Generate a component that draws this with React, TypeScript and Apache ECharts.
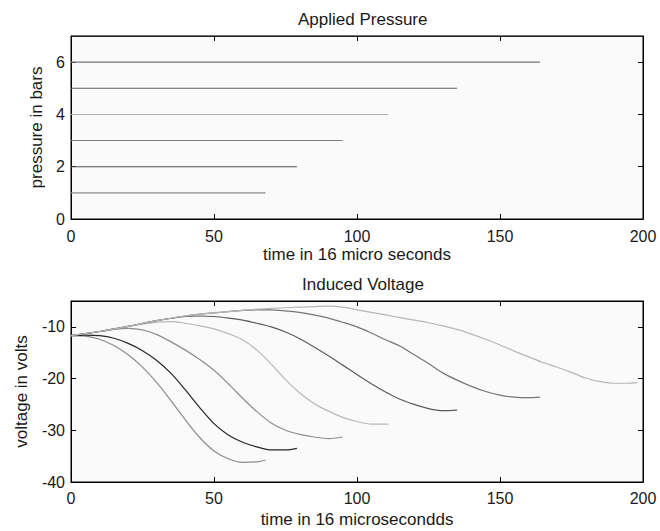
import { useEffect, useRef } from "react";
import * as echarts from "echarts";

// ---- Applied pressure (top panel) ----
const pressureLevels = [1, 2, 3, 4, 5, 6, 7];
const pressureEnds = [68, 79, 95, 111, 135, 164, 200];
const pressureColors = ["#8a8a8a", "#4e4e4e", "#7e7e7e", "#b4b4b4", "#606060", "#747474", "#444444"];

// ---- Induced voltage (bottom panel) ----
const v1t = [0, 5, 10, 15, 20, 25, 30, 35, 40, 45, 50, 55, 60, 65, 68];
const v1 = [-11.7, -11.8, -12.4, -13.6, -15.4, -17.8, -20.8, -24.3, -28.0, -31.4, -34.0, -35.5, -36.2, -36.1, -35.8];

const v2t = [0, 5, 10, 15, 20, 25, 30, 35, 40, 45, 50, 55, 60, 65, 70, 75, 79];
const v2 = [-11.7, -11.6, -11.7, -12.2, -13.2, -14.6, -16.5, -19.0, -22.2, -25.6, -28.7, -30.9, -32.3, -33.2, -33.8, -33.8, -33.5];

const v3t = [0, 5, 10, 15, 20, 25, 30, 35, 40, 45, 50, 55, 60, 65, 70, 75, 80, 85, 90, 95];
const v3 = [-11.7, -11.3, -10.9, -10.5, -10.3, -10.6, -11.5, -12.9, -14.5, -16.3, -18.4, -21.0, -23.8, -26.4, -28.6, -30.0, -30.8, -31.3, -31.6, -31.3];

const v4t = [0, 10, 20, 30, 35, 40, 45, 50, 55, 60, 65, 70, 75, 80, 85, 90, 95, 100, 105, 111];
const v4 = [-11.7, -10.9, -9.9, -9.1, -9.0, -9.3, -9.8, -10.4, -11.3, -12.5, -14.5, -17.2, -20.2, -22.8, -24.8, -26.3, -27.5, -28.3, -28.8, -28.8];

const v5t = [0, 10, 20, 30, 40, 45, 50, 55, 60, 65, 70, 75, 80, 85, 90, 95, 100, 105, 110, 115, 120, 125, 130, 135];
const v5 = [-11.7, -10.9, -9.9, -8.8, -8.0, -7.9, -8.0, -8.3, -8.7, -9.3, -10.0, -11.0, -12.3, -13.9, -15.6, -17.4, -19.2, -21.0, -22.6, -24.0, -25.0, -25.8, -26.2, -26.1];

const v6t = [0, 10, 20, 30, 40, 50, 60, 65, 70, 75, 80, 85, 90, 95, 100, 105, 110, 115, 120, 125, 130, 135, 140, 145, 150, 155, 160, 164];
const v6 = [-11.7, -10.9, -9.9, -8.8, -7.9, -7.3, -6.8, -6.7, -6.7, -6.9, -7.2, -7.7, -8.3, -9.1, -10.0, -11.2, -12.5, -13.7, -15.4, -17.1, -18.9, -20.3, -21.5, -22.5, -23.2, -23.6, -23.7, -23.6];

const v7t = [0, 10, 20, 30, 40, 50, 60, 70, 80, 90, 95, 100, 105, 110, 115, 120, 125, 130, 135, 140, 145, 150, 155, 160, 165, 170, 175, 180, 185, 190, 195, 198];
const v7 = [-11.7, -10.9, -9.9, -8.8, -7.9, -7.3, -6.8, -6.4, -6.2, -6.0, -6.2, -6.7, -7.2, -7.7, -8.2, -8.7, -9.2, -9.8, -10.5, -11.4, -12.4, -13.5, -14.7, -15.8, -16.9, -17.8, -18.8, -19.9, -20.6, -20.9, -20.9, -20.8];

const voltageTimes = [v1t, v2t, v3t, v4t, v5t, v6t, v7t];
const voltageValues = [v1, v2, v3, v4, v5, v6, v7];
const voltageColors = ["#8c8c8c", "#262626", "#8e8e8e", "#b8b8b8", "#5c5c5c", "#767676", "#b6b6b6"];

const timeTicks = [0, 200, 50];
const pressureTicks = [0, 7, 2];
const voltageTicks = [-40, -5, 10];

const FONT = "Liberation Sans, Arial, Helvetica, sans-serif";
const TXT = "#1a1a1a";
const AX = "#000000";
const AXW = 1;

function frameAxis(gridIndex: number, position: string, ticks: number[]) {
  return {
    type: "value",
    gridIndex,
    position,
    min: ticks[0],
    max: ticks[1],
    interval: ticks[2],
    axisLine: { show: true, onZero: false, lineStyle: { color: AX, width: AXW, opacity: 1 } },
    axisTick: { show: true, inside: true, length: 5, lineStyle: { color: AX, width: AXW, opacity: 1 } },
    axisLabel: { show: false },
    splitLine: { show: false },
  };
}
function mainX(gridIndex: number, name: string, gap: number, margin: number) {
  return {
    ...frameAxis(gridIndex, "bottom", timeTicks),
    name,
    nameLocation: "middle",
    nameGap: gap,
    nameTextStyle: { fontSize: 17, color: TXT },
    axisLabel: { show: true, fontSize: 16, color: TXT, margin },
  };
}
function mainY(gridIndex: number, ticks: number[], name: string, gap: number) {
  return {
    ...frameAxis(gridIndex, "left", ticks),
    name,
    nameLocation: "middle",
    nameGap: gap,
    nameTextStyle: { fontSize: 17, color: TXT },
    axisLabel: { show: true, fontSize: 16, color: TXT, margin: 6, showMaxLabel: false },
  };
}

export default function App() {
  const ref = useRef<HTMLDivElement>(null);
  useEffect(() => {
    const chart = echarts.init(ref.current!, null, { renderer: "svg" });
    const pressureSeries = pressureLevels.map((p, i) => ({
      type: "line",
      xAxisIndex: 0,
      yAxisIndex: 0,
      symbol: "none",
      data: [
        [0, p],
        [pressureEnds[i], p],
      ],
      lineStyle: { color: pressureColors[i], width: 1.1 },
    }));
    const voltageSeries = voltageValues.map((vals, i) => ({
      type: "line",
      xAxisIndex: 1,
      yAxisIndex: 1,
      symbol: "none",
      smooth: 0.3,
      data: vals.map((v, j) => [voltageTimes[i][j], v]),
      lineStyle: { color: voltageColors[i], width: 1.2 },
    }));
    chart.setOption({
      animation: false,
      backgroundColor: "#ffffff",
      textStyle: { fontFamily: FONT },
      title: [
        {
          text: "Applied Pressure",
          left: 293,
          top: 6,
          textStyle: { fontSize: 17, fontWeight: "normal", color: TXT },
        },
        {
          text: "Induced Voltage",
          left: 297,
          top: 271,
          textStyle: { fontSize: 17, fontWeight: "normal", color: TXT },
        },
      ],
      grid: [
        { left: 71, right: 17, top: 36, height: 183, show: true, backgroundColor: "#fafafa", borderWidth: 1, borderColor: "#000" },
        { left: 71, right: 17, top: 301, height: 181, show: true, backgroundColor: "#fafafa", borderWidth: 1, borderColor: "#000" },
      ],
      xAxis: [
        mainX(0, "time in 16 micro seconds", 27, 9),
        mainX(1, "time in 16 microsecondds", 29, 8),
        frameAxis(0, "top", timeTicks),
        frameAxis(1, "top", timeTicks),
      ],
      yAxis: [
        mainY(0, pressureTicks, "pressure in bars", 22),
        mainY(1, voltageTicks, "voltage in volts", 41),
        frameAxis(0, "right", pressureTicks),
        frameAxis(1, "right", voltageTicks),
      ],
      series: [...pressureSeries, ...voltageSeries],
    });
    return () => chart.dispose();
  }, []);
  return (
    <div
      ref={ref}
      style={{ position: "fixed", left: 0, top: 0, width: 660, height: 531, background: "#fff" }}
    />
  );
}
